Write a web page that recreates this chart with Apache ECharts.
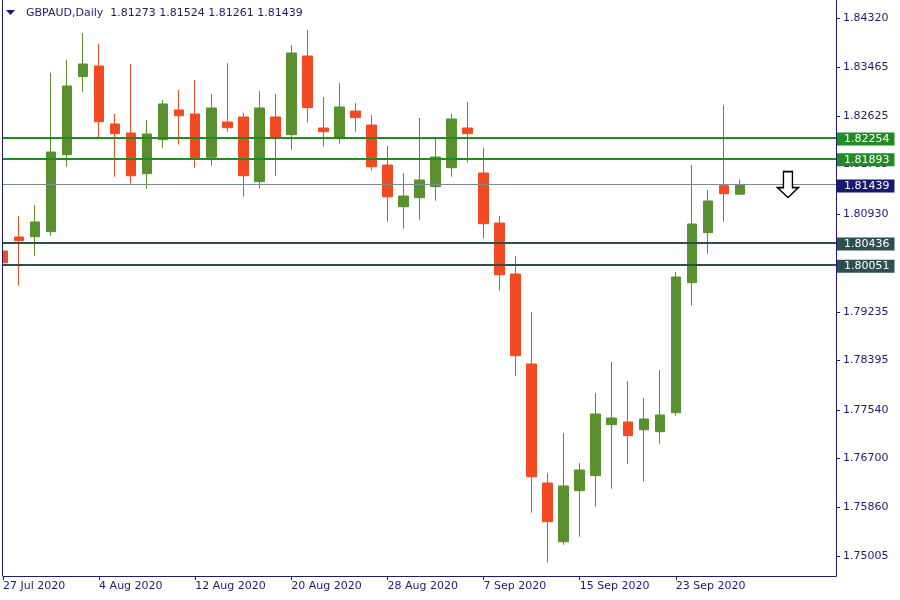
<!DOCTYPE html>
<html>
<head>
<meta charset="utf-8">
<script src="https://cdn.jsdelivr.net/npm/echarts@6/dist/echarts.min.js"></script>
<style>html,body{margin:0;padding:0;background:#fff}#c{width:900px;height:600px}</style>
</head>
<body>
<div id="c"></div>
<script>
const dates = ['2020-07-27','2020-07-28','2020-07-29','2020-07-30','2020-07-31',
'2020-08-03','2020-08-04','2020-08-05','2020-08-06','2020-08-07','2020-08-10','2020-08-11','2020-08-12','2020-08-13','2020-08-14',
'2020-08-17','2020-08-18','2020-08-19','2020-08-20','2020-08-21','2020-08-24','2020-08-25','2020-08-26','2020-08-27','2020-08-28','2020-08-31',
'2020-09-01','2020-09-02','2020-09-03','2020-09-04','2020-09-07','2020-09-08','2020-09-09','2020-09-10','2020-09-11','2020-09-14',
'2020-09-15','2020-09-16','2020-09-17','2020-09-18','2020-09-21','2020-09-22','2020-09-23','2020-09-24','2020-09-25','2020-09-28',
'2020-09-29','2020-09-30','2020-10-01','2020-10-02','2020-10-05','2020-10-06','2020-10-07'];
const opens = [1.80290,1.80532,1.80537,1.80624,1.81956,1.83305,1.83490,1.82487,1.82331,1.81627,1.82215,1.82729,1.82660,1.81911,1.82521,1.82608,1.81489,1.82608,1.82302,1.83663,1.82417,1.82250,1.82711,1.82469,1.81777,1.81056,1.81212,1.81402,1.81731,1.82417,1.81639,1.80774,1.79892,1.78336,1.76277,1.75262,1.76144,1.76404,1.77286,1.77332,1.77199,1.77165,1.77493,1.79742,1.80607,1.81420,1.81273];
const closes = [1.80088,1.80468,1.80792,1.82002,1.83144,1.83524,1.82526,1.82319,1.81592,1.82314,1.82833,1.82630,1.81887,1.82763,1.82423,1.81592,1.82763,1.82262,1.83715,1.82769,1.82353,1.82781,1.82596,1.81748,1.81229,1.81241,1.81518,1.81916,1.82573,1.82319,1.80762,1.79880,1.78479,1.76386,1.75608,1.76226,1.76502,1.77471,1.77402,1.77096,1.77384,1.77454,1.79840,1.80757,1.81155,1.81280,1.81439];
const lows = [1.79477,1.79690,1.80209,1.80555,1.81748,1.83045,1.82257,1.81575,1.81454,1.81368,1.82077,1.82129,1.81731,1.81765,1.82353,1.81229,1.81368,1.81592,1.82042,1.82509,1.82094,1.82146,1.82353,1.81679,1.80797,1.80676,1.80831,1.81160,1.81575,1.81817,1.80503,1.79603,1.78133,1.75764,1.74899,1.75210,1.75349,1.75868,1.76179,1.76611,1.76300,1.76957,1.77441,1.79344,1.80243,1.80797,1.81261];
const highs = [1.80705,1.80895,1.81086,1.83374,1.83594,1.84061,1.83870,1.82660,1.83524,1.82556,1.82902,1.83075,1.83248,1.83006,1.83542,1.82677,1.83057,1.83006,1.83853,1.84112,1.82954,1.83196,1.82850,1.82642,1.82106,1.81639,1.82590,1.82232,1.82660,1.82867,1.82072,1.80895,1.80204,1.79235,1.76450,1.77142,1.76623,1.77834,1.78370,1.78042,1.77748,1.78232,1.79927,1.81777,1.81345,1.82815,1.81524];
const yTicks = [1.75005,1.75860,1.76700,1.77540,1.78395,1.79235,1.80930,1.81785,1.82625,1.83465,1.84320];
const resistanceLevels = [1.82254,1.81893];
const supportLevels = [1.80436,1.80051];
const currentPrice = 1.81439;
const arrowDate = '2020-10-02';
const titleText = 'GBPAUD,Daily  1.81273 1.81524 1.81261 1.81439';

const NAVY = '#1b1a78';
const FONT = 'DejaVu Sans';
const months = ['Jan','Feb','Mar','Apr','May','Jun','Jul','Aug','Sep','Oct','Nov','Dec'];
function fmtDate(s){const p=s.split('-');return (+p[2])+' '+months[+p[1]-1]+' '+p[0];}
const showDateAt = (i)=> i%6===0 && i<=42;

const candleData = opens.map((o,i)=>[o, closes[i], lows[i], highs[i]]);
const YMIN = 1.74669, YMAX = 1.84631;

function levelLine(v, color, width, boxColor){
  return {yAxis: v, lineStyle:{color:color, width:width, type:'solid'},
    label:{show:true, position:'end', distance:1, offset:[0,1.5], formatter:()=>v.toFixed(5),
      color:'#fff', backgroundColor:boxColor||color, padding:[0,5,1,7], fontSize:11, lineHeight:12, fontFamily:FONT}};
}
const lines = [];
lines.push(levelLine(currentPrice,'#7f8a99',1,'#191970'));
resistanceLevels.forEach(v=>lines.push(levelLine(v,'#238b23',2)));
supportLevels.forEach(v=>lines.push(levelLine(v,'#2f4f4f',2)));

const chart = echarts.init(document.getElementById('c'), null, {renderer:'canvas'});
chart.setOption({
  animation:false,
  backgroundColor:'#ffffff',
  title:{text:titleText, left:21, top:3, textStyle:{color:NAVY, fontSize:11, fontWeight:'normal', fontFamily:FONT}},
  graphic:[
    {type:'polygon', shape:{points:[[6,10],[15,10],[10.5,15]]}, style:{fill:NAVY}, z:100},
    {type:'rect', shape:{x:0, y:0, width:2, height:577}, style:{fill:'#ffffff'}, z:100},
    {type:'line', shape:{x1:2.5, y1:0, x2:2.5, y2:576}, style:{stroke:NAVY, lineWidth:1}, z:100}
  ],
  grid:{left:3, right:64, top:0, bottom:24},
  xAxis:{type:'category', data:dates, boundaryGap:false,
    axisLine:{show:true, lineStyle:{color:NAVY, width:1}},
    axisTick:{show:true, length:4, interval:showDateAt, lineStyle:{color:NAVY}},
    axisLabel:{interval:showDateAt, formatter:fmtDate, align:'left', margin:5, color:NAVY, fontSize:11, fontFamily:FONT},
    splitLine:{show:false}},
  yAxis:{type:'value', position:'right', min:YMIN, max:YMAX, scale:true,
    axisLine:{show:true, lineStyle:{color:NAVY, width:1}},
    axisTick:{show:true, length:4, customValues:yTicks, lineStyle:{color:NAVY}},
    axisLabel:{customValues:yTicks, formatter:(v)=>v.toFixed(5), margin:7, color:NAVY, fontSize:11, fontFamily:FONT},
    splitLine:{show:false}},
  series:[
   {type:'line', data:[], silent:true,
    markLine:{silent:true, precision:5, symbol:['none','none'], data:lines, animation:false}},
   {type:'candlestick', data:candleData, barWidth:10, clip:true,
    itemStyle:{color:'#5b9030', color0:'#f24b24', borderColor:'#5b9030', borderColor0:'#f24b24', borderWidth:1},
    markPoint:{silent:true, data:[{coord:[arrowDate, currentPrice],
      symbol:'path://M6,0 L15,0 L15,16 L21,16 L10.5,26 L0,16 L6,16 Z', symbolSize:[21,26],
      itemStyle:{color:'#ffffff', borderColor:'#000000', borderWidth:1.5}, label:{show:false}}]}
  }]
});
</script>
</body>
</html>
